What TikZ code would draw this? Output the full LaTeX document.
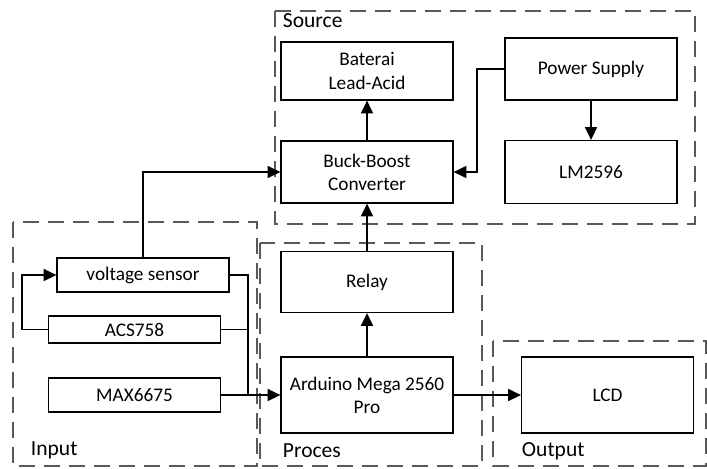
\documentclass[tikz,border=0pt]{standalone}
\usepackage{fontspec}
\setmainfont{Carlito}
\usetikzlibrary{arrows.meta}
\tikzset{
  blok/.style={draw, line width=0.9pt, minimum width=172*0.025cm, align=center, inner sep=0pt, font=\fontsize{13.7}{16.5}\selectfont},
  grup/.style={draw=black!65, line width=0.9pt, dash pattern=on 16*0.025cm off 9*0.025cm},
  label/.style={anchor=west, font=\fontsize{15.3}{18}\selectfont},
  arr/.style={-{Triangle[length=9pt, width=8.5pt]}, line width=1.3pt},
  wire/.style={line width=1.3pt}
}
\begin{document}
\begin{tikzpicture}[x=0.025cm, y=-0.025cm]
  \useasboundingbox (0,0) rectangle (707,468);
  % groups
  \draw[grup] (275,11) rectangle (695,224);
  \draw[grup] (13,222) rectangle (257,466);
  \draw[grup] (260,243) rectangle (482,466);
  \draw[grup] (493,341) -- (493,466) -- (706,466) -- (706,341) -- cycle;
  \node[label] (lsrc) at (278,21) {Source};
  \node[label] (linp) at (26,450) {Input};
  \node[label] (lpro) at (278,451) {Proces};
  \node[label] (lout) at (517,451) {Output};
  % blocks
  \node[blok, minimum height=58*0.025cm] (bat) at (367,71) {Baterai\\Lead-Acid};
  \node[blok, minimum height=62*0.025cm] (ps) at (591,69) {Power Supply};
  \node[blok, minimum height=62*0.025cm] (bb) at (367,172) {Buck-Boost\\Converter};
  \node[blok, minimum height=63*0.025cm] (lm) at (591,172) {LM2596};
  \node[blok, minimum height=34*0.025cm] (vs) at (143,275) {voltage sensor};
  \node[blok, minimum height=27*0.025cm] (acs) at (134.5,329.5) {ACS758};
  \node[blok, minimum height=34*0.025cm] (max) at (134.5,395) {MAX6675};
  \node[blok, minimum height=61*0.025cm] (relay) at (367,282) {Relay};
  \node[blok, minimum height=76*0.025cm] (ard) at (367,395) {Arduino Mega 2560\\Pro};
  \node[blok, minimum height=76*0.025cm] (lcd) at (607.5,395) {LCD};
  % connections
  \coordinate (jn) at (248,395);
  \draw[arr] (vs.north) |- (bb.west);
  \draw[arr] (acs.west) -- ++(-26,0) |- (vs.west);
  \draw[wire] (vs.east) -| (jn);
  \draw[wire] (acs.east) -| (jn);
  \draw[arr] (max.east) -- (ard.west);
  \draw[arr] (ard.north) -- (relay.south);
  \draw[arr] (relay.north) -- (bb.south);
  \draw[arr] (bb.north) -- (bat.south);
  \draw[arr] (ps.west) -- ++(-27,0) |- (bb.east);
  \draw[arr] (ps.south) -- (lm.north);
  \draw[arr] (ard.east) -- (lcd.west);
\end{tikzpicture}
\end{document}
